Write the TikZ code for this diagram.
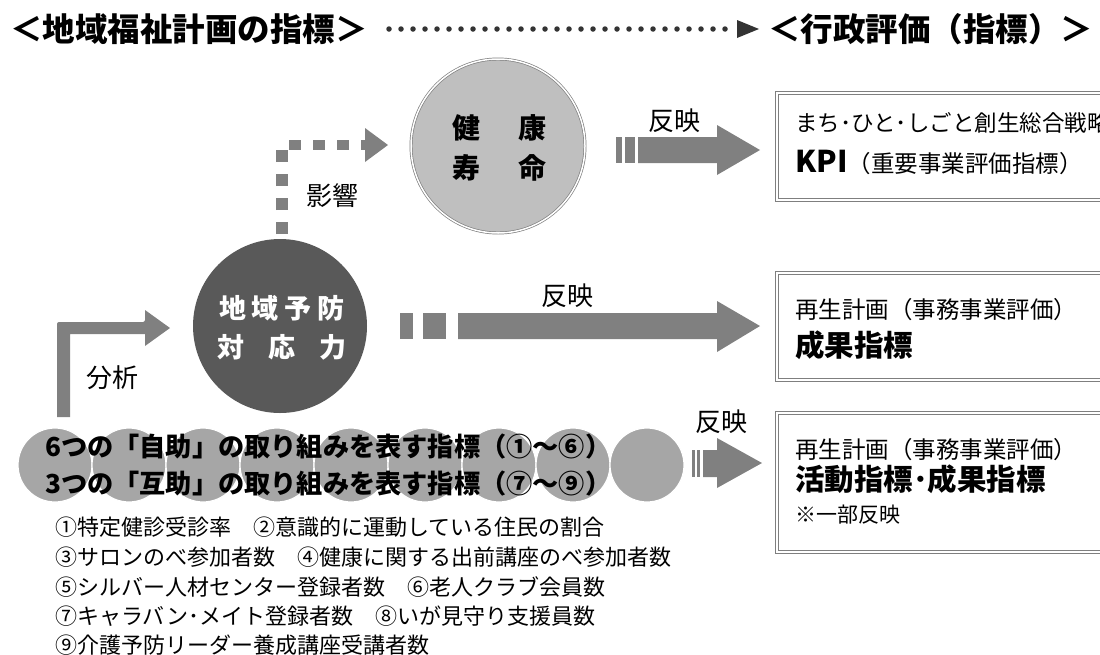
\documentclass[tikz,border=0pt]{standalone}
\usepackage{fontspec}
\setmainfont{Noto Sans CJK JP}
\definecolor{arrowgray}{HTML}{808080}
\definecolor{darkc}{HTML}{595959}
\definecolor{lightc}{HTML}{BFBFBF}
\definecolor{ellc}{HTML}{A6A6A6}
\definecolor{dotc}{HTML}{333333}
\definecolor{boxline}{HTML}{7F7F7F}
\tikzset{
  titletext/.style={anchor=west, inner sep=0, font=\bfseries\fontsize{32.5}{36}\selectfont},
  lbl/.style={inner sep=0, font=\fontsize{26}{30}\selectfont},
  boxtext/.style={anchor=west, inner sep=0, font=\fontsize{23.5}{27}\selectfont},
  boxbold/.style={anchor=west, inner sep=0, font=\bfseries\fontsize{29.5}{32}\selectfont},
  listtext/.style={anchor=west, inner sep=0, font=\fontsize{22}{25}\selectfont},
  evalbox/.style={draw=boxline, double=white, double distance=2.2pt, line width=0.9pt},
  ind/.style={circle, fill=ellc, draw=white, line width=1.2pt, minimum size=74pt, inner sep=0},
  blockfill/.style={fill=arrowgray}
}
\begin{document}
\begin{tikzpicture}[x=1pt,y=-1pt]
\useasboundingbox (0,0) rectangle (1100,654);
\clip (0,0) rectangle (1100,654);

% titles
\node[titletext] (t1) at (10,29) {＜地域福祉計画の指標＞};
\node[titletext] (t2) at (768,29) {＜行政評価（指標）＞};
\coordinate (dotS) at (389,29);
\coordinate (dotE) at (736,29);
\draw[dotc, line width=5.5pt, line cap=round, dash pattern=on 0pt off 12pt] (dotS) -- (dotE);
\fill[dotc] (737,20) -- (759,29) -- (737,38) -- cycle;

% health life circle
\node[circle, minimum size=174pt, inner sep=0, fill=lightc, draw=boxline, double=white, double distance=1.5pt, line width=0.7pt] (kenko) at (498,146) {};
\node[inner sep=0, font=\bfseries\fontsize{28}{30}\selectfont] (k1) at (499,128) {健\kern38pt 康};
\node[inner sep=0, font=\bfseries\fontsize{28}{30}\selectfont] (k2) at (499,168) {寿\kern38pt 命};

% regional prevention circle
\node[circle, minimum size=174pt, inner sep=0, fill=darkc] (yobo) at (280,326) {};
\node[inner sep=0, text=white, font=\bfseries\fontsize{27}{30}\selectfont] (y1) at (282,308) {地\kern6pt 域\kern6pt 予\kern6pt 防};
\node[inner sep=0, text=white, font=\bfseries\fontsize{27}{30}\selectfont] (y2) at (282,347) {対\kern24pt 応\kern24pt 力};

% influence (dotted) arrow
\draw[arrowgray, line width=12pt, dash pattern=on 12pt off 12pt] (282,234) -- (282,150);
\draw[arrowgray, line width=10.5pt, dash pattern=on 12pt off 12pt] (289,145) -- (365,145);
\fill[arrowgray] (365,128) -- (388,145) -- (365,162) -- cycle;
\node[lbl] (eikyo) at (332,196) {影響};

% reflect arrow top
\fill[blockfill] (616,137) rectangle (622,163);
\fill[blockfill] (625,137) rectangle (635,163);
\fill[blockfill] (638,137) -- (717,137) -- (717,125) -- (760,150) -- (717,175) -- (717,163) -- (638,163) -- cycle;
\node[lbl] (h1) at (674,121) {反映};

% reflect arrow middle
\fill[blockfill] (400,313) rectangle (413,339);
\fill[blockfill] (423,313) rectangle (446,339);
\fill[blockfill] (458,313) -- (717,313) -- (717,301) -- (760,326) -- (717,352) -- (717,339) -- (458,339) -- cycle;
\node[lbl] (h2) at (567,296) {反映};

% reflect arrow bottom
\fill[blockfill] (692,450) rectangle (695,477);
\fill[blockfill] (697,450) rectangle (700,477);
\fill[blockfill] (703,450) -- (717,450) -- (717,438) -- (762,463) -- (717,488) -- (717,477) -- (703,477) -- cycle;
\node[lbl] (h3) at (721,422) {反映};

% analysis arrow
\fill[blockfill] (57,417) -- (57,325) [rounded corners=2pt] -- (57,322) -- (145,322) [sharp corners] -- (145,310) -- (170,328) -- (145,346) -- (145,334) -- (70,334) -- (70,417) -- cycle;
\node[lbl] (bunseki) at (112,378) {分析};

% indicator circles
\foreach \k in {0,...,8} {
  \node[ind] (e\k) at ({55+74*\k},465) {};
}
\node[anchor=west, inner sep=0, font=\bfseries\fontsize{26.2}{30}\selectfont] (jijo) at (45,447) {6つの「自助」の取り組みを表す指標（①～⑥）};
\node[anchor=west, inner sep=0, font=\bfseries\fontsize{26.2}{30}\selectfont] (gojo) at (45,484) {3つの「互助」の取り組みを表す指標（⑦～⑨）};

% evaluation boxes
\draw[evalbox] (777,93) rectangle (1130,200);
\node[anchor=west, inner sep=0, font=\fontsize{22.5}{26}\selectfont] (b1a) at (795,123) {まち･ひと･しごと創生総合戦略};
\node[anchor=west, inner sep=0] (b1b) at (795,162) {{\bfseries\fontsize{30}{32}\selectfont KPI}{\fontsize{23.5}{27}\selectfont （重要事業評価指標）}};

\draw[evalbox] (777,273) rectangle (1130,380);
\node[boxtext] (b2a) at (795,310) {再生計画（事務事業評価）};
\node[boxbold] (b2b) at (795,345) {成果指標};

\draw[evalbox] (777,413) rectangle (1130,552);
\node[boxtext] (b3a) at (795,450) {再生計画（事務事業評価）};
\node[boxbold] (b3b) at (795,479) {活動指標･成果指標};
\node[anchor=west, inner sep=0, font=\fontsize{21}{24}\selectfont] (b3c) at (795,515) {※一部反映};

% indicator list
\node[listtext] (l1) at (55,527) {①特定健診受診率　②意識的に運動している住民の割合};
\node[listtext] (l2) at (55,557) {③サロンのべ参加者数　④健康に関する出前講座のべ参加者数};
\node[listtext] (l3) at (55,587) {⑤シルバー人材センター登録者数　⑥老人クラブ会員数};
\node[listtext] (l4) at (55,616) {⑦キャラバン･メイト登録者数　⑧いが見守り支援員数};
\node[listtext] (l5) at (55,645) {⑨介護予防リーダー養成講座受講者数};
\end{tikzpicture}
\end{document}
